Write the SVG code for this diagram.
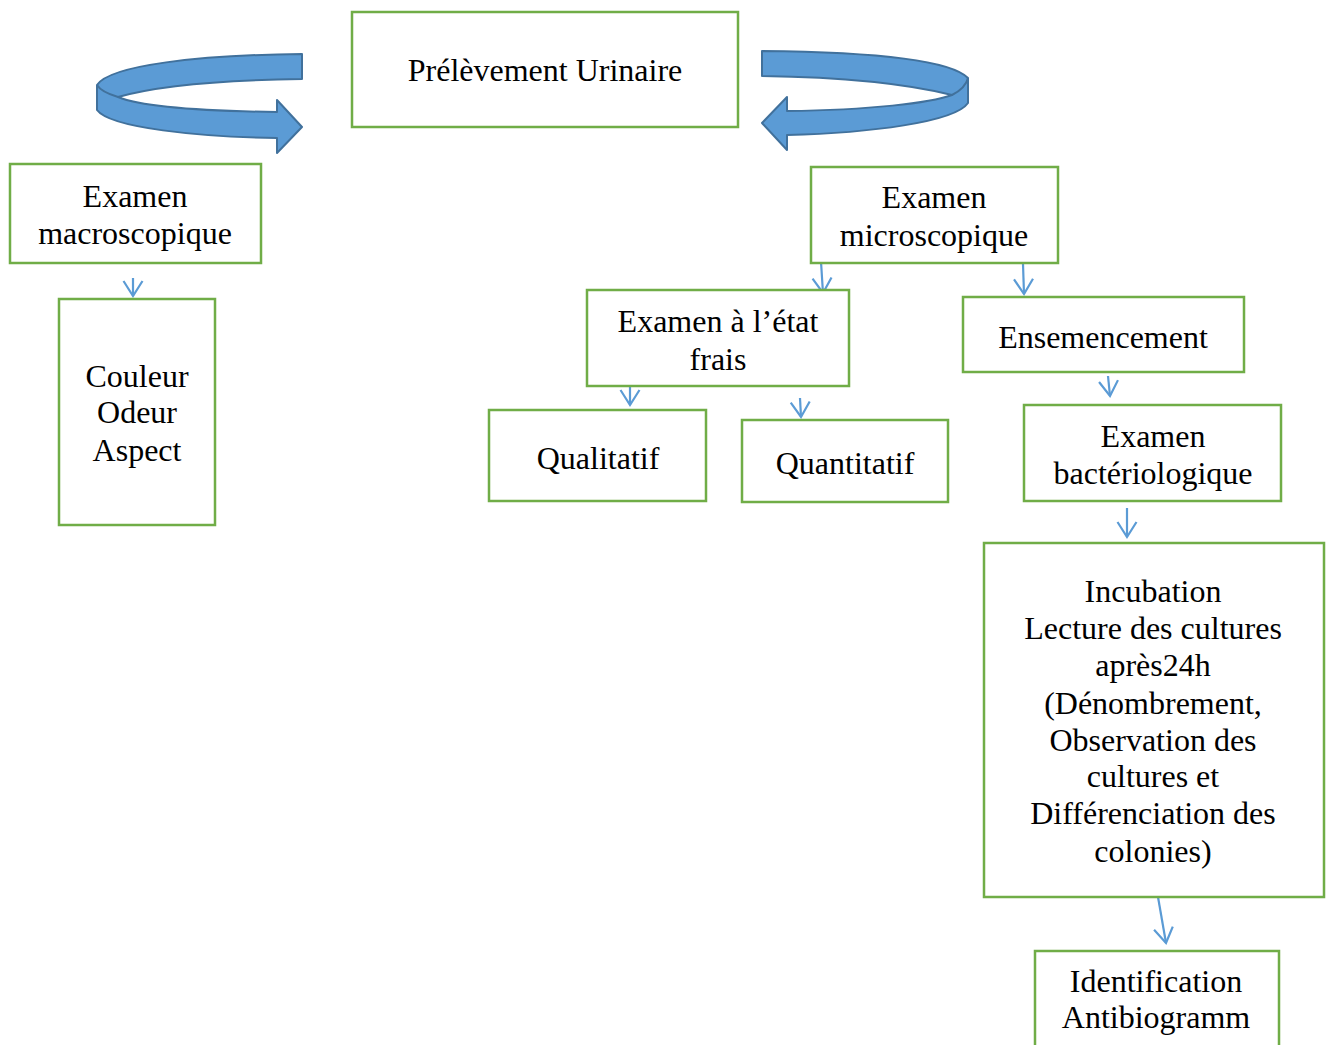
<svg xmlns="http://www.w3.org/2000/svg" width="1331" height="1045" viewBox="0 0 1331 1045">
<style>
.box{fill:#fff;stroke:#70AD47;stroke-width:2.5}
.t{font-family:"Liberation Serif","Times New Roman",serif;font-size:32px;fill:#000;text-anchor:middle}
.c{fill:none;stroke:#5B9BD5;stroke-width:2.2}
.big{fill:#5B9BD5;stroke:#41719C;stroke-width:2;stroke-linejoin:round}
.fold{fill:none;stroke:#41719C;stroke-width:2}
</style>
<defs>
<marker id="v" viewBox="0 0 22 22" refX="19" refY="11" markerWidth="22" markerHeight="22" markerUnits="userSpaceOnUse" orient="auto">
<path d="M4,1.5 L19,11 L4,20.5" fill="none" stroke="#5B9BD5" stroke-width="2.2"/>
</marker>
</defs>
<rect width="1331" height="1045" fill="#fff"/>
<g id="curved-arrows">
<path class="big" d="M302,54 C200,55 110,65 97,85 L97,110 C110,128 200,137 277,138 L277,153 L302,127 L277,100 L277,112 C200,111 140,106 118,97 C160,85 230,80 302,79 Z"/>
<path class="fold" d="M97,85 C100,90 108,94 118,97"/>
<path class="big" d="M762,51 C870,52 950,60 968,78 L968,103 C955,122 870,133 787,135 L787,150 L762,123 L787,97 L787,111 C870,110 930,103 952,95 C900,82 830,77 762,76 Z"/>
<path class="fold" d="M968,78 C966,86 960,91 952,95"/>
</g>
<g id="connectors">
<path class="c" d="M133,278 L133,296" marker-end="url(#v)"/>
<path class="c" d="M821,262 L823,293" marker-end="url(#v)"/>
<path class="c" d="M1023,264 L1024,294" marker-end="url(#v)"/>
<path class="c" d="M630,386 L630,405" marker-end="url(#v)"/>
<path class="c" d="M800,398 L801,417" marker-end="url(#v)"/>
<path class="c" d="M1108,376 L1110,396" marker-end="url(#v)"/>
<path class="c" d="M1127,508 L1127,537" marker-end="url(#v)"/>
<path class="c" d="M1158,897 L1166,943" marker-end="url(#v)"/>
</g>
<g id="n-prelevement"><rect class="box" x="352" y="12" width="386" height="115"/><text class="t" x="545" y="81">Prélèvement Urinaire</text></g>
<g id="n-macro"><rect class="box" x="10" y="164" width="251" height="99"/><text class="t" x="135" y="207">Examen</text><text class="t" x="135" y="244">macroscopique</text></g>
<g id="n-couleur"><rect class="box" x="59" y="299" width="156" height="226"/><text class="t" x="137" y="387">Couleur</text><text class="t" x="137" y="423">Odeur</text><text class="t" x="137" y="461">Aspect</text></g>
<g id="n-micro"><rect class="box" x="811" y="167" width="247" height="96"/><text class="t" x="934" y="208">Examen</text><text class="t" x="934" y="246">microscopique</text></g>
<g id="n-frais"><rect class="box" x="587" y="290" width="262" height="96"/><text class="t" x="718" y="332">Examen à l’état</text><text class="t" x="718" y="370">frais</text></g>
<g id="n-ensemencement"><rect class="box" x="963" y="297" width="281" height="75"/><text class="t" x="1103" y="348">Ensemencement</text></g>
<g id="n-qualitatif"><rect class="box" x="489" y="410" width="217" height="91"/><text class="t" x="598" y="469">Qualitatif</text></g>
<g id="n-quantitatif"><rect class="box" x="742" y="420" width="206" height="82"/><text class="t" x="845" y="474">Quantitatif</text></g>
<g id="n-bacterio"><rect class="box" x="1024" y="405" width="257" height="96"/><text class="t" x="1153" y="447">Examen</text><text class="t" x="1153" y="484">bactériologique</text></g>
<g id="n-incubation"><rect class="box" x="984" y="543" width="340" height="354"/>
<text class="t" x="1153" y="602">Incubation</text>
<text class="t" x="1153" y="639">Lecture des cultures</text>
<text class="t" x="1153" y="676">après24h</text>
<text class="t" x="1153" y="714">(Dénombrement,</text>
<text class="t" x="1153" y="751">Observation des</text>
<text class="t" x="1153" y="787">cultures et</text>
<text class="t" x="1153" y="824">Différenciation des</text>
<text class="t" x="1153" y="862">colonies)</text>
</g>
<g id="n-identification"><rect class="box" x="1035" y="951" width="244" height="110"/><text class="t" x="1156" y="992">Identification</text><text class="t" x="1156" y="1028">Antibiogramm</text></g>
</svg>
